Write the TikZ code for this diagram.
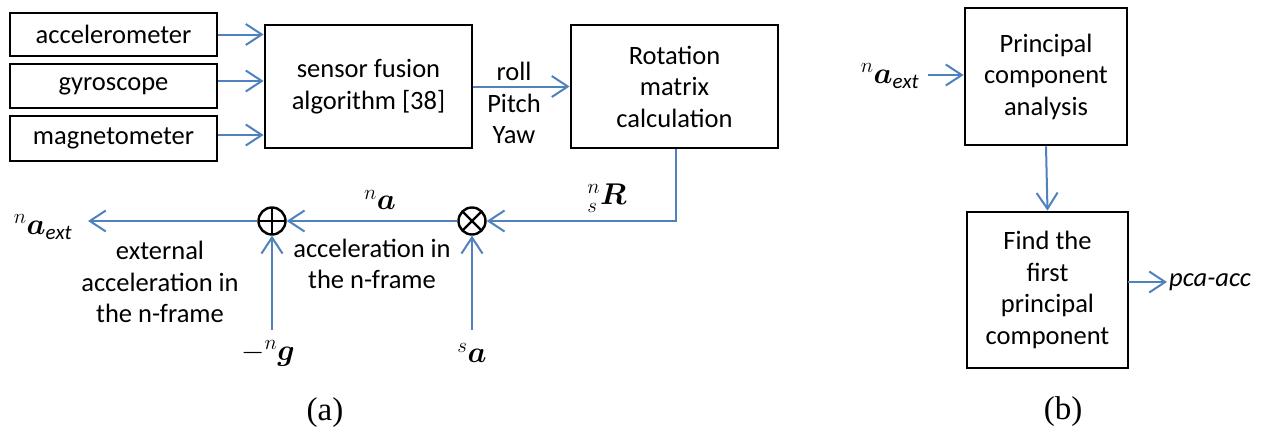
\documentclass[tikz,border=0pt]{standalone}
\usepackage{fix-cm}
\usepackage{amsmath,bm}
\usepackage{fontspec}
\setmainfont{Carlito}
\newfontfamily\capfont{Liberation Serif}
\usetikzlibrary{arrows.meta}
\definecolor{lineblue}{RGB}{79,129,189}
\begin{document}
\begin{tikzpicture}[x=1pt,y=-1pt,
  txt/.style={font=\fontsize{26.5}{31.5}\selectfont, align=center, inner sep=0pt},
  mth/.style={font=\fontsize{30}{34}\selectfont, inner sep=0pt},
  blk/.style={txt, draw=black, line width=2.8pt},
  arr/.style={draw=lineblue, line width=2pt, -{Straight Barb[length=16pt,width=21pt,line width=2pt]}},
  sumop/.style={circle, draw=black, line width=2.4pt, minimum size=27pt, inner sep=0pt,
    path picture={\draw[line width=2.4pt] (path picture bounding box.north) -- (path picture bounding box.south)
      (path picture bounding box.west) -- (path picture bounding box.east);}},
  mulop/.style={circle, draw=black, line width=2.4pt, minimum size=27pt, inner sep=0pt,
    path picture={\draw[line width=2.4pt] (path picture bounding box.north west) -- (path picture bounding box.south east)
      (path picture bounding box.south west) -- (path picture bounding box.north east);}},
  captxt/.style={font=\capfont\fontsize{33}{38}\selectfont, inner sep=0pt}
]
\useasboundingbox (0,0) rectangle (1272,434);

% panel (a) boxes
\node[blk, minimum width=207pt, minimum height=43pt] (acc) at (113.5,34.5) {accelerometer};
\node[blk, minimum width=207pt, minimum height=44pt] (gyro) at (113.5,86) {gyroscope};
\node[blk, minimum width=207pt, minimum height=45pt] (mag) at (113.5,138.5) {magnetometer};
\node[blk, minimum width=207pt, minimum height=123pt] (sf) at (368.5,86.5) {sensor fusion\\algorithm [38]};
\node[blk, minimum width=207pt, minimum height=123pt] (rot) at (674.5,86.5) {Rotation\\matrix\\calculation};

\coordinate (a1) at (acc.east);
\coordinate (g1) at ([yshift=5pt]gyro.east);
\coordinate (m1) at ([yshift=3.5pt]mag.east);
\draw[arr] (a1) -- (a1 -| sf.west);
\draw[arr] (g1) -- (g1 -| sf.west);
\draw[arr] (m1) -- (m1 -| sf.west);

\draw[arr] (sf.east) -- (rot.west);
\node[txt] (rpy) at (514,103) {roll\\Pitch\\Yaw};

% operators
\node[mulop] (mul) at (472,221) {};
\node[sumop] (sum) at (272,221) {};
\coordinate (r1) at ([xshift=1.5pt]rot.south);
\draw[arr] (r1) |- (mul);
\node[mth] (Rl) at (607,198) {${}^{n}_{s}\boldsymbol{R}$};
\draw[arr] (mul) -- (sum);
\node[mth] (nal) at (380,200) {${}^{n}\boldsymbol{a}$};
\coordinate (outp) at (88,221);
\draw[arr] (sum) -- (outp);
\node[mth] (aext) at (43,227) {${}^{n}\boldsymbol{a}_{\mathit{ext}}$};
\node[txt] (ext) at (160,282) {external\\acceleration in\\the n-frame};
\node[txt] (accn) at (372,264) {acceleration in\\the n-frame};
\coordinate (g0) at (272,330);
\coordinate (s0) at (472,330);
\draw[arr] (g0) -- (sum);
\draw[arr] (s0) -- (mul);
\node[mth] (gl) at (268,353) {$-{}^{n}\boldsymbol{g}$};
\node[mth] (sal) at (472,353) {${}^{s}\boldsymbol{a}$};
\node[captxt] (capa) at (325,413) {(a)};

% panel (b)
\node[blk, minimum width=162pt, minimum height=137pt] (pca) at (1046,76.5) {Principal\\component\\analysis};
\node[blk, minimum width=161pt, minimum height=156pt] (find) at (1047.5,290) {Find the\\first\\principal\\component};
\node[mth] (bin) at (890,76) {${}^{n}\boldsymbol{a}_{\mathit{ext}}$};
\coordinate (b0) at (928,75);
\draw[arr] (b0) -- (b0 -| pca.west);
\draw[arr] (pca.south) -- (find.north);
\coordinate (b1) at (1128,282);
\coordinate (b2) at (1167,282);
\draw[arr] (b1) -- (b2);
\node[txt, anchor=west] (pcaacc) at (1169,282) {\textit{pca-acc}};
\node[captxt] (capb) at (1063,412) {(b)};
\end{tikzpicture}
\end{document}
